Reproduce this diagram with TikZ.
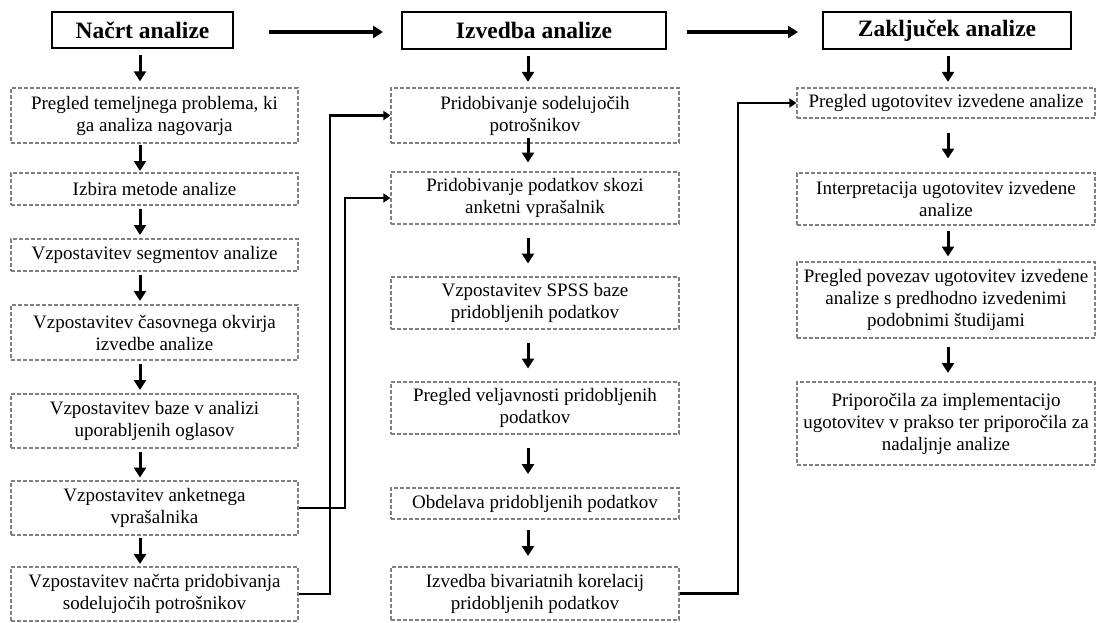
\documentclass[tikz,border=0pt]{standalone}
\usepackage{fontspec}
\setmainfont{Liberation Serif}
\usetikzlibrary{arrows.meta,calc}
\definecolor{dashgray}{RGB}{128,128,128}
\begin{document}
\begin{tikzpicture}[x=1pt,y=-1pt,
  box/.style={draw=dashgray, dash pattern=on 4pt off 2pt, line width=1.2pt, inner sep=0pt, align=center,
    font=\fontsize{19pt}{22pt}\selectfont},
  hdr/.style={draw=black, line width=2.6pt, inner sep=0pt, font=\bfseries\fontsize{23.5pt}{26pt}\selectfont},
  down/.style={-{Triangle[width=12pt,length=10pt]}, line width=3pt},
  link/.style={-{Triangle[width=9pt,length=7pt]}, line width=2.6pt},
  hlink/.style={-{Triangle[width=12pt,length=10pt]}, line width=3.4pt}]
\useasboundingbox (0,0) rectangle (1096,622);
% headers
\node[hdr, minimum width=181pt, minimum height=36pt] (H1) at (142.5,30) {Načrt analize};
\node[hdr, minimum width=264pt, minimum height=37pt] (H2) at (534,30.5) {Izvedba analize};
\node[hdr, minimum width=248pt, minimum height=37pt] (H3) at (947,30.5) {Zaključek analize};
% left column
\node[box, minimum width=287pt, minimum height=55pt] (L1) at (154.5,115.5) {Pregled temeljnega problema, ki\\ga analiza nagovarja};
\node[box, minimum width=287pt, minimum height=32pt] (L2) at (154.5,189) {Izbira metode analize};
\node[box, minimum width=287pt, minimum height=32pt] (L3) at (154.5,255) {Vzpostavitev segmentov analize};
\node[box, minimum width=287pt, minimum height=55pt] (L4) at (154.5,332.5) {Vzpostavitev časovnega okvirja\\izvedbe analize};
\node[box, minimum width=287pt, minimum height=54pt] (L5) at (154.5,421) {Vzpostavitev baze v analizi\\uporabljenih oglasov};
\node[box, minimum width=287pt, minimum height=54pt] (L6) at (154.5,508) {Vzpostavitev anketnega\\vprašalnika};
\node[box, minimum width=287pt, minimum height=54pt] (L7) at (154.5,594) {Vzpostavitev načrta pridobivanja\\sodelujočih potrošnikov};
% middle column
\node[box, minimum width=288pt, minimum height=55pt] (M1) at (535,115.5) {Pridobivanje sodelujočih\\potrošnikov};
\node[box, minimum width=288pt, minimum height=52pt] (M2) at (535,198) {Pridobivanje podatkov skozi\\anketni vprašalnik};
\node[box, minimum width=288pt, minimum height=52pt] (M3) at (535,303) {Vzpostavitev SPSS baze\\pridobljenih podatkov};
\node[box, minimum width=288pt, minimum height=52pt] (M4) at (535,408) {Pregled veljavnosti pridobljenih\\podatkov};
\node[box, minimum width=288pt, minimum height=31pt] (M5) at (535,503.5) {Obdelava pridobljenih podatkov};
\node[box, minimum width=288pt, minimum height=53pt] (M6) at (535,593.5) {Izvedba bivariatnih korelacij\\pridobljenih podatkov};
% right column
\node[box, minimum width=298pt, minimum height=30pt] (R1) at (946,103) {Pregled ugotovitev izvedene analize};
\node[box, minimum width=298pt, minimum height=52pt] (R2) at (946,199) {Interpretacija ugotovitev izvedene\\analize};
\node[box, minimum width=298pt, minimum height=76pt] (R3) at (946,300) {Pregled povezav ugotovitev izvedene\\analize s predhodno izvedenimi\\podobnimi študijami};
\node[box, minimum width=298pt, minimum height=83pt] (R4) at (946,423.5) {Priporočila za implementacijo\\ugotovitev v prakso ter priporočila za\\nadaljnje analize};
% column axes
\coordinate (cl) at (140,0);
\coordinate (cm) at (528,0);
\coordinate (cr) at (948,0);
% down arrows
\foreach \a/\b/\c in {H1/L1/cl,L1/L2/cl,L2/L3/cl,L3/L4/cl,L4/L5/cl,L5/L6/cl,L6/L7/cl,
                      H2/M1/cm,M2/M3/cm,M3/M4/cm,M4/M5/cm,M5/M6/cm,
                      H3/R1/cr,R1/R2/cr,R2/R3/cr,R3/R4/cr}{
  \coordinate (mid) at ($(\a.south -| \c)!0.5!(\b.north -| \c)$);
  \draw[down] ($(mid)+(0,-13)$) -- ($(mid)+(0,13)$);
}
\coordinate (mid) at ($(M1.south -| cm)!0.5!(M2.north -| cm)$);
\draw[down] ($(mid)+(0,-20)$) -- ($(mid)+(0,5)$);
% header arrows
\coordinate (h1s) at (269,32);
\coordinate (h1e) at (383,32);
\coordinate (h2s) at (687,32);
\coordinate (h2e) at (798,32);
\draw[hlink] (h1s) -- (h1e);
\draw[hlink] (h2s) -- (h2e);
% connectors
\coordinate (v1) at (345,0);
\coordinate (v2) at (330,0);
\coordinate (v3) at (738,0);
\draw[link] (L6.east) -- (L6.east -| v1) |- (M2.west);
\draw[link] (L7.east) -- (L7.east -| v2) |- (M1.west);
\draw[link] (M6.east) -- (M6.east -| v3) |- (R1.west);
\end{tikzpicture}
\end{document}
